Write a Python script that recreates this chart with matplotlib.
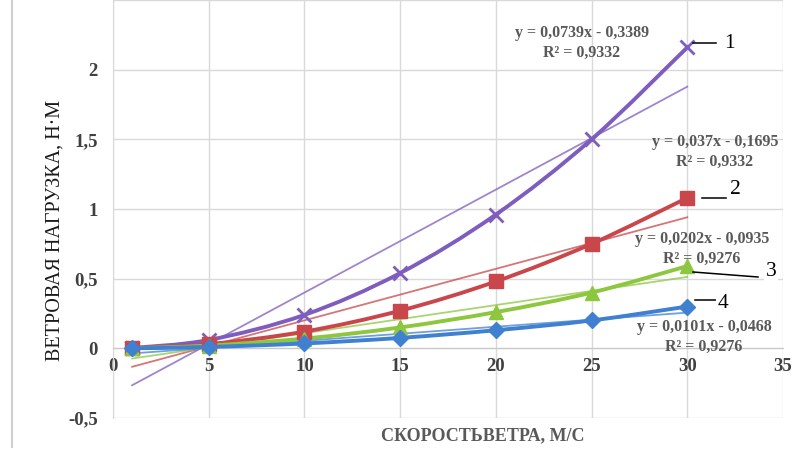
import matplotlib
matplotlib.use("Agg")
import matplotlib.pyplot as plt
from matplotlib.path import Path
from matplotlib.patches import PathPatch
from matplotlib.lines import Line2D
from matplotlib.ticker import FuncFormatter
import numpy as np

plt.rcParams['font.family'] = ['Liberation Serif', 'DejaVu Serif']

# Wind speed, m/s
speed = [1, 5, 10, 15, 20, 25, 30]

# Wind load, N·m, for the four cases
load_1 = [0.0024, 0.06, 0.24, 0.54, 0.96, 1.50, 2.16]
load_2 = [0.0012, 0.03, 0.12, 0.27, 0.48, 0.75, 1.08]
load_3 = [0.0, 0.02, 0.07, 0.15, 0.26, 0.40, 0.59]
load_4 = [0.0, 0.01, 0.035, 0.075, 0.13, 0.20, 0.30]

# Linear trend coefficients (slope, intercept) and R² for each case
trend_slope = [0.0739, 0.037, 0.0202, 0.0101]
trend_icept = [-0.3389, -0.1695, -0.0935, -0.0468]
trend_r2 = [0.9332, 0.9332, 0.9276, 0.9276]

series = [load_1, load_2, load_3, load_4]
curve_names = ['1', '2', '3', '4']
colors = ['#7E5DBF', '#C9474A', '#8DC63F', '#3F80D0']
markers = ['x', 's', '^', 'D']
msizes = [10.5, 10, 9.5, 8.5]

x_ticks = [0, 5, 10, 15, 20, 25, 30, 35]
y_ticks = [-0.5, 0, 0.5, 1, 1.5, 2, 2.5]


def comma(v, pos=None):
    return ('%g' % v).replace('.', ',')


def smooth_path(xs, ys):
    """Catmull-Rom style cubic Bezier path through the points."""
    pts = np.column_stack([xs, ys]).astype(float)
    n = len(pts)
    verts = [pts[0]]
    codes = [Path.MOVETO]
    for i in range(n - 1):
        p0 = pts[i - 1] if i > 0 else pts[i]
        p1 = pts[i]
        p2 = pts[i + 1]
        p3 = pts[i + 2] if i + 2 < n else pts[i + 1]
        c1 = p1 + (p2 - p0) / 6.0
        c2 = p2 - (p3 - p1) / 6.0
        verts += [c1, c2, p2]
        codes += [Path.CURVE4] * 3
    return Path(verts, codes)


fig = plt.figure(figsize=(7.93, 4.5), dpi=100)
ax = fig.add_axes([113 / 793, 1 - 418 / 450, 670 / 793, 418 / 450])
ax.set_xlim(0, 35)
ax.set_ylim(-0.5, 2.5)

ax.set_xticks(x_ticks)
ax.set_yticks(y_ticks)
ax.xaxis.set_major_formatter(FuncFormatter(comma))
ax.yaxis.set_major_formatter(FuncFormatter(lambda v, p: '' if v > 2.2 else comma(v)))
ax.grid(True, color='#D9D9D9', lw=1.0)
ax.set_axisbelow(True)
for side in ['top', 'right']:
    ax.spines[side].set_visible(False)
ax.spines['left'].set_color('#D9D9D9')
ax.spines['bottom'].set_position(('data', 0))
ax.spines['bottom'].set_color('#C8C8C8')
ax.tick_params(axis='both', length=0, labelsize=13.5, labelcolor='#404040')
ax.tick_params(axis='x', pad=7)
ax.tick_params(axis='y', pad=11)
for lab in ax.get_xticklabels() + ax.get_yticklabels():
    lab.set_fontweight('bold')

# Linear trend lines
xt = np.array([speed[0], speed[-1]], dtype=float)
for k, c in zip(range(4), colors):
    ax.plot(xt, trend_slope[k] * xt + trend_icept[k], color=c, lw=1.3, alpha=0.75, zorder=2)

# Smoothed series with markers
for ys, c, m, ms in zip(series, colors, markers, msizes):
    ax.add_patch(PathPatch(smooth_path(speed, ys), fill=False, edgecolor=c, lw=2.8,
                           capstyle='round', zorder=3))
    if m == 'x':
        ax.plot(speed, ys, ls='none', marker=m, ms=ms, mew=2.0, color=c, zorder=4)
    else:
        ax.plot(speed, ys, ls='none', marker=m, ms=ms, color=c, mec=c, zorder=4)

# Trend equations, one text per line
eq_pos = [(582, 43), (715, 152), (702, 249), (704, 337)]
for k, (px, py) in enumerate(eq_pos):
    b = trend_icept[k]
    eq = 'y = %sx - %s' % (comma(trend_slope[k]), comma(abs(b)))
    r2 = 'R² = %s' % comma(trend_r2[k])
    fig.text(px / 793, 1 - (py - 10) / 450, eq, ha='center', va='center', fontsize=11.5,
             fontweight='bold', color='#595959')
    fig.text(px / 793, 1 - (py + 10) / 450, r2, ha='center', va='center', fontsize=11.5,
             fontweight='bold', color='#595959')

# Curve numbers with leader lines
leaders = [((693, 43), (716, 43)), ((702, 198), (726, 198)),
           ((693, 272), (758, 277)), ((695, 300), (716, 300))]
num_pos = [(729, 43), (735, 190), (771, 271), (723, 303)]
for name, ((x0, y0), (x1, y1)), (nx, ny) in zip(curve_names, leaders, num_pos):
    fig.add_artist(Line2D([x0 / 793, x1 / 793], [1 - y0 / 450, 1 - y1 / 450],
                          color='black', lw=1.1))
    fig.text(nx / 793, 1 - ny / 450, name, ha='center', va='center', fontsize=15.5,
             color='black', bbox=dict(facecolor='white', edgecolor='none', pad=1.0))

# Axis titles
fig.text(55 / 793, 1 - 230 / 450, 'ВЕТРОВАЯ НАГРУЗКА, Н·М', rotation=90,
         ha='center', va='center', fontsize=14.5, color='#1a1a1a')
fig.text(483 / 793, 1 - 436 / 450, 'СКОРОСТЬВЕТРА, М/С', ha='center', va='center',
         fontsize=13, fontweight='bold', color='#595959')

# Left frame line of the chart area
fig.add_artist(Line2D([12 / 793, 12 / 793], [1 - 447 / 450, 1.0], color='#D0D0D0', lw=1.5))

fig.savefig('out.png', dpi=100)
